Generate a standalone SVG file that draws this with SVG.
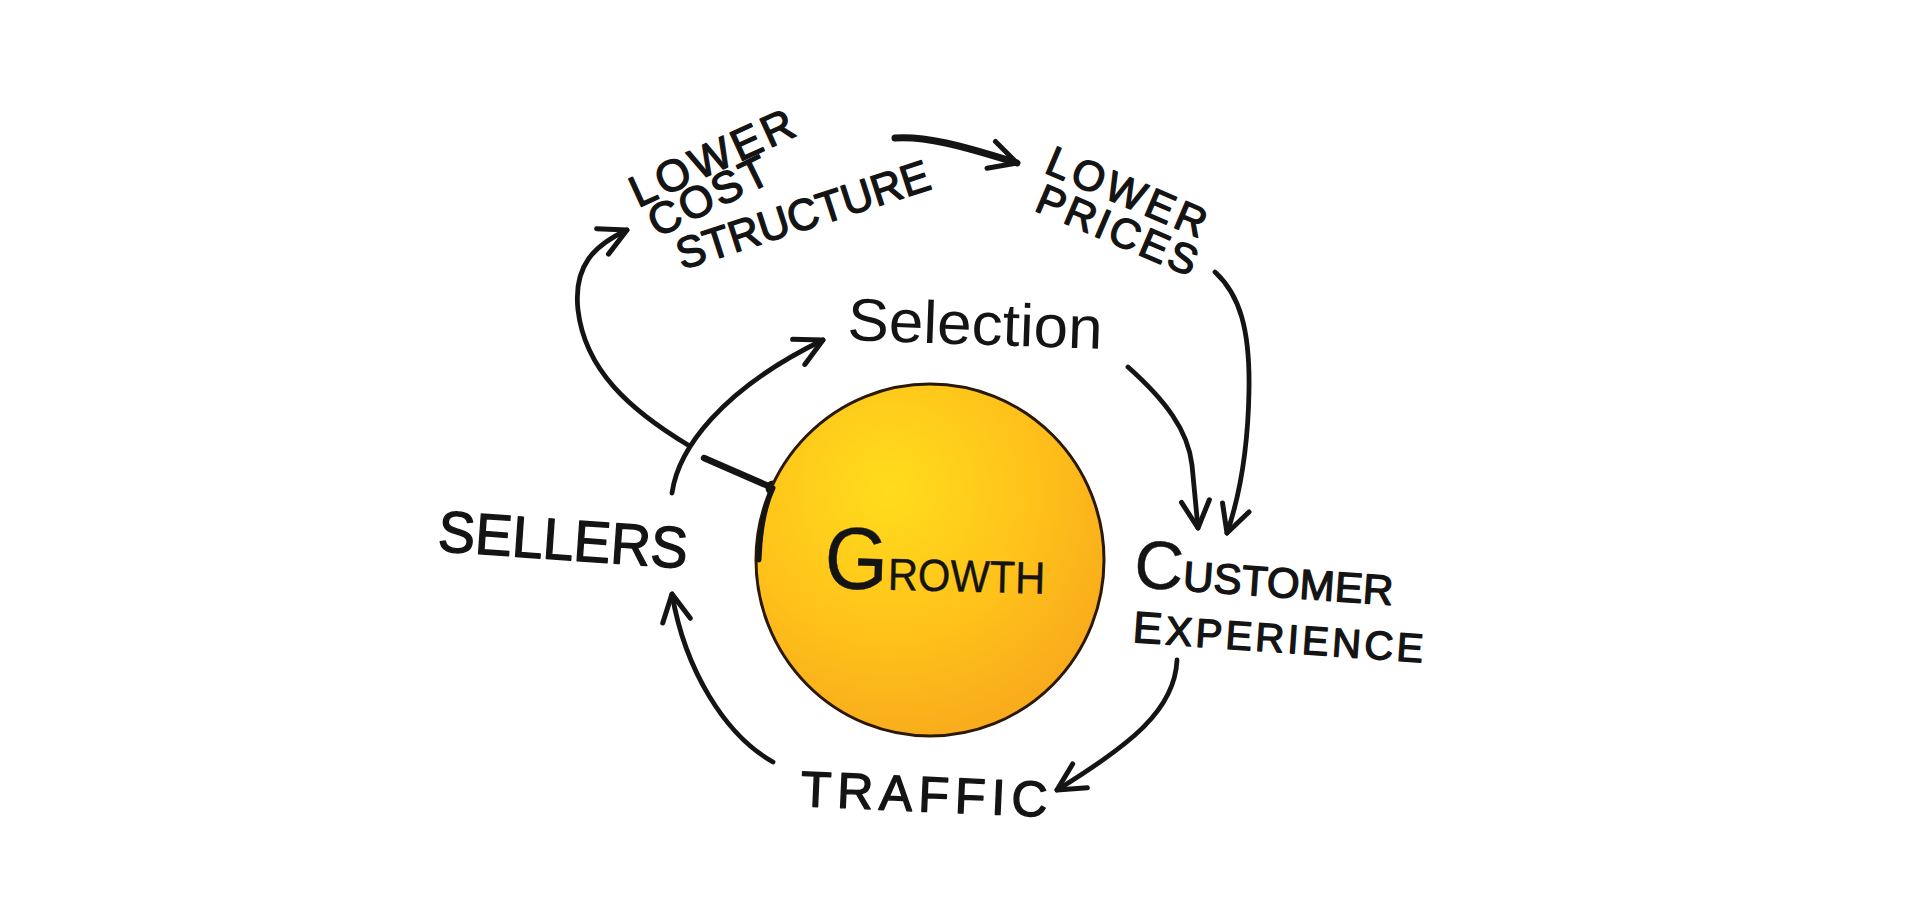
<svg xmlns="http://www.w3.org/2000/svg" width="1920" height="900" viewBox="0 0 1920 900">
<style>
.ink{fill:none;stroke:#141414;stroke-width:4.8;stroke-linecap:round;stroke-linejoin:round}
.bold{stroke-width:7}
.lbl{font-family:"Liberation Sans",Arial,sans-serif;fill:#141414}
.caps{stroke:#141414;stroke-width:1.4;stroke-linejoin:round}
.thin{stroke:none}
</style>
<defs>
<radialGradient id="sun" cx="38%" cy="30%" r="75%">
<stop offset="0" stop-color="#FFDC1C"/>
<stop offset="0.55" stop-color="#FFC21A"/>
<stop offset="1" stop-color="#F8A91C"/>
</radialGradient>
<marker id="head" viewBox="-32 -18 36 36" refX="0" refY="0" markerWidth="36" markerHeight="36" markerUnits="userSpaceOnUse" orient="auto" overflow="visible">
<path d="M-27,-14 L0,0 L-27,14" fill="none" stroke="#141414" stroke-width="5" stroke-linecap="round" stroke-linejoin="round"/>
</marker>
</defs>
<rect width="1920" height="900" fill="#ffffff"/>

<g id="connectors">
<path id="c-sellers-selection" class="ink" d="M672,493 C678,450 720,390 823,340" marker-end="url(#head)"/>
<path id="c-growth-cost" class="ink" d="M688,445 C630,410 585,370 578,310 C573,265 595,245 627,230" marker-end="url(#head)"/>
<path id="c-growth-stub" class="ink" style="stroke-width:6.5" d="M773,488 L704,458"/>
<circle cx="773" cy="488" r="7.5" fill="#141414"/>
<path id="c-cost-prices" class="ink bold" d="M895,138 C925,136 960,145 1017,163" marker-end="url(#head)"/>
<path id="c-prices-customer" class="ink" d="M1215,272 C1240,295 1250,330 1249,390 C1248,450 1240,495 1227,533" marker-end="url(#head)"/>
<path id="c-selection-customer" class="ink" d="M1128,367 C1165,400 1188,430 1192,465 L1198,528" marker-end="url(#head)"/>
<path id="c-customer-traffic" class="ink" d="M1177,660 C1175,710 1130,745 1057,790" marker-end="url(#head)"/>
<path id="c-traffic-sellers" class="ink" d="M773,762 C725,735 685,670 672,594" marker-end="url(#head)"/>
</g>

<g id="node-growth">
<ellipse cx="930" cy="560" rx="174" ry="176" fill="url(#sun)" stroke="#2a1800" stroke-width="3"/>
<path d="M773,488 C765,505 760,530 759,560" fill="none" stroke="#141414" stroke-width="5" stroke-linecap="round"/>
<text class="lbl" x="824" y="588" textLength="221" lengthAdjust="spacingAndGlyphs" transform="rotate(1.5 824 588)" style="stroke:#141414;stroke-width:0.4"><tspan font-size="88">G</tspan><tspan font-size="45">ROWTH</tspan></text>
</g>

<g id="node-selection">
<text class="lbl thin" x="847" y="340" font-size="60" textLength="255" lengthAdjust="spacingAndGlyphs" transform="rotate(2 847 340)">Selection</text>
</g>

<g id="node-sellers">
<text class="lbl caps" x="437" y="551" font-size="58" textLength="250" lengthAdjust="spacingAndGlyphs" transform="rotate(4 437 551)">SELLERS</text>
</g>

<g id="node-customer-experience">
<text class="lbl caps" x="1133" y="587" textLength="260" lengthAdjust="spacing" transform="rotate(4 1133 587)"><tspan font-size="68" style="stroke-width:0.5">C</tspan><tspan font-size="42">USTOMER</tspan></text>
<text class="lbl caps" x="1132" y="642" textLength="291" lengthAdjust="spacing" transform="rotate(4 1132 642)"><tspan font-size="44">E</tspan><tspan font-size="40">XPERIENCE</tspan></text>
</g>

<g id="node-traffic">
<text class="lbl caps" x="800" y="806" font-size="50" textLength="247" lengthAdjust="spacing" transform="rotate(2.5 800 806)">TRAFFIC</text>
</g>

<g id="node-lower-cost">
<text class="lbl caps" x="638" y="208" font-size="44" textLength="176" lengthAdjust="spacing" transform="rotate(-24.5 638 208)">LOWER</text>
<text class="lbl caps" x="657" y="238" font-size="44" textLength="129" lengthAdjust="spacing" transform="rotate(-26 657 238)">COST</text>
<text class="lbl caps" x="682" y="270" font-size="44" textLength="264" lengthAdjust="spacingAndGlyphs" transform="rotate(-18 682 270)">STRUCTURE</text>
</g>

<g id="node-lower-prices">
<text class="lbl caps" x="1043" y="172" font-size="42" textLength="170" lengthAdjust="spacing" transform="rotate(23 1043 172)">LOWER</text>
<text class="lbl caps" x="1033" y="210" font-size="42" textLength="171" lengthAdjust="spacing" transform="rotate(23 1033 210)">PRICES</text>
</g>
</svg>
